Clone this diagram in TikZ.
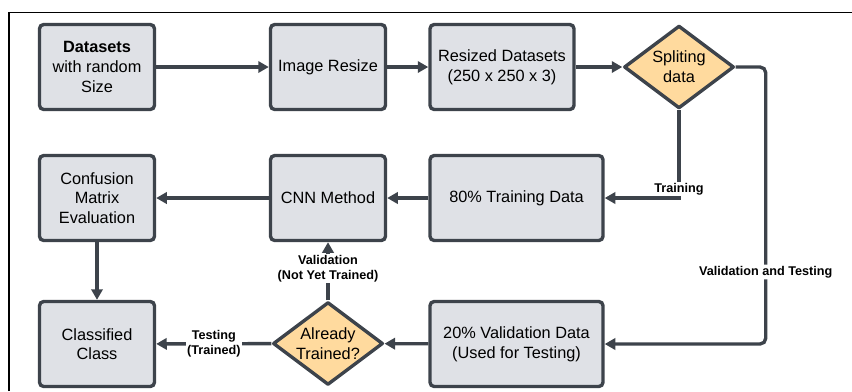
\documentclass[tikz,border=0pt]{standalone}
\usepackage{fontspec}
\setmainfont{Liberation Sans}
\usepackage{tikz}
\usetikzlibrary{shapes.geometric}
\usetikzlibrary{arrows.meta}
\definecolor{boxfill}{HTML}{DFE1E6}
\definecolor{boxline}{HTML}{3D434B}
\definecolor{decfill}{HTML}{FFDA9E}
\tikzstyle{stage}=[rectangle,rounded corners=3pt,draw=boxline,fill=boxfill,line width=2.4pt,align=center,inner sep=2pt,font=\fontsize{11.6}{14}\selectfont]
\tikzstyle{smallstage}=[stage,minimum width=2.875cm,minimum height=2.125cm]
\tikzstyle{widestage}=[stage,minimum width=4.325cm,minimum height=2.125cm]
\tikzstyle{decision}=[diamond,aspect=1.33,draw=boxline,fill=decfill,line width=2.4pt,line join=round,inner sep=0pt,minimum width=2.75cm,minimum height=2.07cm,align=center,font=\fontsize{11.6}{14}\selectfont]
\tikzstyle{flow} = [draw=boxline,line width=2.4pt,-{Triangle[length=7.5pt,width=8pt]}]
\tikzstyle{note} = [fill=white,inner sep=1pt,align=center,font=\bfseries\fontsize{9}{10.8}\selectfont]

\begin{document}
\begin{tikzpicture}[x=0.025cm, y=-0.025cm]

  \useasboundingbox (0,0) rectangle (852,391);
  \draw[line width=1pt] (9,391) -- (9,12.5) -- (852,12.5);

   \foreach \x/\y/\name/\label in {97/67/data/{\textbf{Datasets}\\with random\\Size}, 328/67/resize/Image Resize, 97/198/conf/{Confusion\\Matrix\\Evaluation}, 328/198/cnn/CNN Method, 97/344/cls/{Classified\\Class}}
          \node[smallstage] (\name) at (\x, \y) {\label};

   \node[stage,minimum width=3.6cm,minimum height=2.125cm] (resized) at (502,67) {Resized Datasets\\(250 x 250 x 3)};

   \foreach \y/\name/\label in {198/train/80\% Training Data, 344/val/{20\% Validation Data\\(Used for Testing)}}
          \node[widestage] (\name) at (516.5, \y) {\label};

   \node[decision] (split) at (679,67) {Spliting\\data};
   \node[decision] (trained) at (328,343.5) {Already\\Trained?};

  \foreach \source/ \dest in {data/resize, resize/resized, resized/split, train/cnn, cnn/conf, conf/cls, val/trained}
         \path[flow] (\source) -- (\dest);

  \path[flow] (split.south) |- node[note,pos=0.5,yshift=6.4pt] {Training} (train.east);
  \path[flow,rounded corners=4pt] (split.east) -- ++(30,0) |- node[note,pos=0.37] {Validation and Testing} (val.east);
  \path[flow] (trained) -- node[note,pos=0.55] {Validation\\(Not Yet Trained)} (cnn);
  \path[flow] (trained) -- node[note] {Testing\\(Trained)} (cls);

\end{tikzpicture}
\end{document}
